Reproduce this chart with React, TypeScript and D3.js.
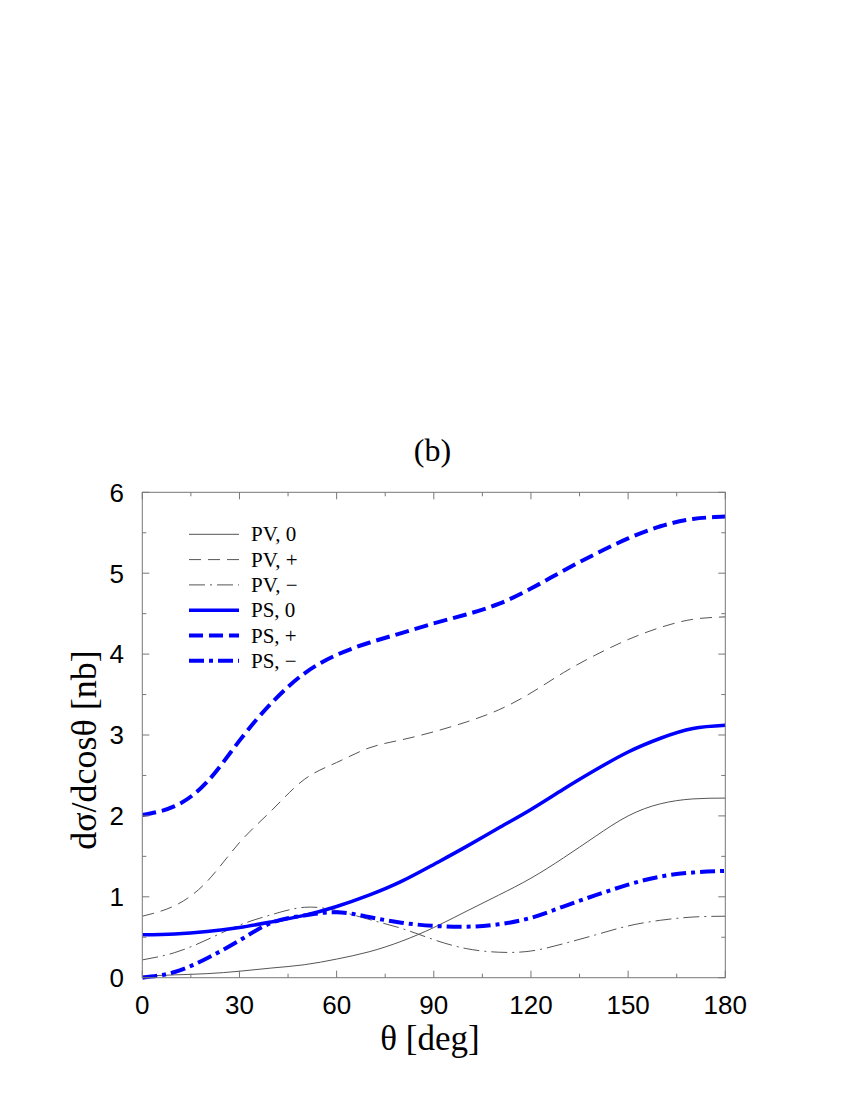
import React from "react";
import * as d3 from "d3";

const theta = [0, 10, 20, 30, 40, 50, 60, 70, 80, 90, 100, 110, 120, 130, 140, 150, 160, 170, 180];
const pv0 = [0.02, 0.035, 0.05, 0.08, 0.12, 0.16, 0.23, 0.32, 0.45, 0.62, 0.82, 1.02, 1.23, 1.48, 1.75, 2.0, 2.15, 2.21, 2.22];
const pvPlus = [0.76, 0.89, 1.19, 1.67, 2.07, 2.45, 2.66, 2.84, 2.94, 3.04, 3.16, 3.31, 3.52, 3.77, 3.99, 4.18, 4.33, 4.43, 4.46];
const pvMinus = [0.22, 0.31, 0.47, 0.65, 0.78, 0.87, 0.83, 0.72, 0.61, 0.47, 0.36, 0.315, 0.33, 0.42, 0.53, 0.64, 0.71, 0.75, 0.76];
const ps0 = [0.53, 0.54, 0.57, 0.62, 0.69, 0.77, 0.88, 1.02, 1.19, 1.4, 1.62, 1.85, 2.08, 2.33, 2.57, 2.79, 2.96, 3.08, 3.12];
const psPlus = [2.01, 2.12, 2.42, 2.93, 3.4, 3.76, 3.99, 4.14, 4.26, 4.38, 4.49, 4.62, 4.81, 5.03, 5.24, 5.43, 5.58, 5.67, 5.7];
const psMinus = [0.0, 0.07, 0.24, 0.46, 0.68, 0.77, 0.81, 0.75, 0.68, 0.64, 0.63, 0.66, 0.74, 0.88, 1.02, 1.15, 1.25, 1.3, 1.32];

const xTicks = [0, 30, 60, 90, 120, 150, 180];
const yTicks = [0, 1, 2, 3, 4, 5, 6];
const labels = ["PV, 0", "PV, +", "PV, \u2212", "PS, 0", "PS, +", "PS, \u2212"];

const series = [
  { values: pv0, color: "#555", width: 1, dash: "" },
  { values: pvPlus, color: "#555", width: 1, dash: "12,7" },
  { values: pvMinus, color: "#555", width: 1, dash: "16,5,2,5" },
  { values: ps0, color: "#0000ff", width: 3.5, dash: "" },
  { values: psPlus, color: "#0000ff", width: 4, dash: "14,6" },
  { values: psMinus, color: "#0000ff", width: 4, dash: "15,5,4,5" },
];

export default function App() {
  const left = 142.3, right = 725.3, top = 492.3, bottom = 977.7;
  const x = d3.scaleLinear().domain([0, 180]).range([left, right]);
  const y = d3.scaleLinear().domain([0, 6]).range([bottom, top]);
  const line = d3
    .line<number>()
    .x((_, i) => x(theta[i]))
    .y((d) => y(d))
    .curve(d3.curveNatural);

  const minorX = d3.range(0, 181, 15);
  const minorY = d3.range(0, 6.01, 0.5);
  const axisColor = "#777";
  const serif = "'Liberation Serif', 'Times New Roman', serif";
  const sans = "'Liberation Sans', Arial, Helvetica, sans-serif";

  return (
    <svg width={850} height={1100} style={{ position: "absolute", left: 0, top: 0, background: "#fff" }}>
      <rect x={0} y={0} width={850} height={1100} fill="#fff" />
      <defs>
        <clipPath id="clip">
          <rect x={left} y={top - 5} width={right - left + 3} height={bottom - top + 10} />
        </clipPath>
      </defs>
      <g clipPath="url(#clip)">
        {series.map((s, i) => (
          <path
            key={i}
            d={line(s.values) || ""}
            fill="none"
            stroke={s.color}
            strokeWidth={s.width}
            strokeDasharray={s.dash || undefined}
          />
        ))}
      </g>
      <rect x={left} y={top} width={right - left} height={bottom - top} fill="none" stroke={axisColor} strokeWidth={1} />
      {minorX.map((t) => {
        const len = t % 30 === 0 ? 7 : 4;
        return (
          <g key={"xt" + t}>
            <line x1={x(t)} x2={x(t)} y1={bottom} y2={bottom - len} stroke={axisColor} />
            <line x1={x(t)} x2={x(t)} y1={top} y2={top + len} stroke={axisColor} />
          </g>
        );
      })}
      {minorY.map((t) => {
        const len = Math.abs(t - Math.round(t)) < 1e-6 ? 7 : 4;
        return (
          <g key={"yt" + t}>
            <line x1={left} x2={left + len} y1={y(t)} y2={y(t)} stroke={axisColor} />
            <line x1={right} x2={right - len} y1={y(t)} y2={y(t)} stroke={axisColor} />
          </g>
        );
      })}
      {xTicks.map((t) => (
        <text key={"xl" + t} x={x(t)} y={1014} textAnchor="middle" fontFamily={sans} fontSize={26} fill="#000">
          {t}
        </text>
      ))}
      {yTicks.map((t) => (
        <text key={"yl" + t} x={124} y={y(t) + 9.3} textAnchor="end" fontFamily={sans} fontSize={26} fill="#000">
          {t}
        </text>
      ))}
      <text x={432.5} y={461} textAnchor="middle" fontFamily={serif} fontSize={32} fill="#000">
        (b)
      </text>
      <text x={430} y={1050} textAnchor="middle" fontFamily={serif} fontSize={35} fill="#000">
        θ [deg]
      </text>
      <text
        transform={`translate(96,750) rotate(-90)`}
        textAnchor="middle"
        fontFamily={serif}
        fontSize={36}
        fill="#000"
      >
        dσ/dcosθ [nb]
      </text>
      {series.map((s, i) => {
        const ly = 534.3 + i * 25.3;
        return (
          <g key={"lg" + i}>
            <line
              x1={189}
              x2={239}
              y1={ly}
              y2={ly}
              stroke={s.color}
              strokeWidth={s.width}
              strokeDasharray={s.dash || undefined}
            />
            <text x={251} y={ly + 7} fontFamily={serif} fontSize={21} fill="#000">
              {labels[i]}
            </text>
          </g>
        );
      })}
    </svg>
  );
}
